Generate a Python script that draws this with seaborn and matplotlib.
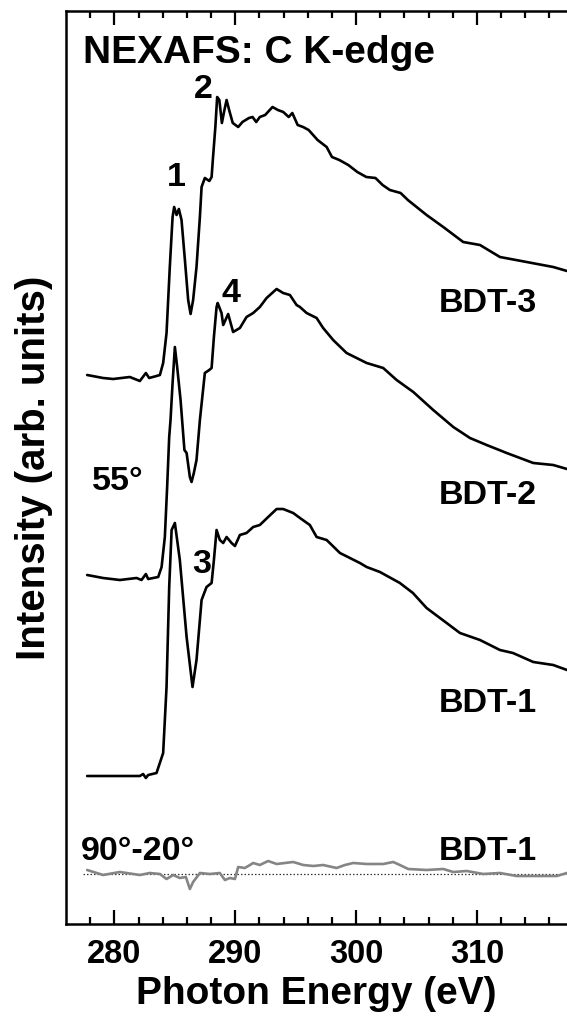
import numpy as np
import pandas as pd
import matplotlib
matplotlib.use("Agg")
import matplotlib.pyplot as plt
import seaborn as sns

# ---- NEXAFS C K-edge spectra (photon energy in eV, intensity in arb. units) ----
# Each spectrum is given relative to its own pre-edge level and stacked with an offset.

bdt1_energy = [277.75, 279.07, 282.11, 282.38, 282.61, 282.80, 283.49, 284.04, 284.32,
               284.54, 284.74, 285.01, 285.42, 285.98, 286.47, 286.80, 287.22, 287.63,
               288.05, 288.24, 288.46, 288.73, 289.01, 289.29, 289.70, 289.98, 290.39,
               290.94, 291.49, 292.04, 292.73, 293.43, 293.97, 294.80, 295.36, 296.18,
               296.74, 297.57, 298.67, 300.32, 300.88, 301.98, 303.63, 304.71, 305.84,
               307.50, 308.60, 310.26, 311.91, 312.99, 314.67, 316.32, 317.46]
bdt1_intensity = [-0.02, -0.02, -0.02, 0.00, -0.04, -0.01, 0.01, 0.21, 0.87,
                  1.87, 2.44, 2.51, 2.14, 1.37, 0.87, 1.14, 1.74, 1.87,
                  1.91, 2.14, 2.44, 2.34, 2.31, 2.37, 2.31, 2.28, 2.39,
                  2.41, 2.47, 2.49, 2.57, 2.65, 2.65, 2.61, 2.56, 2.49,
                  2.37, 2.34, 2.21, 2.11, 2.07, 2.02, 1.91, 1.81, 1.66,
                  1.51, 1.41, 1.34, 1.24, 1.21, 1.12, 1.09, 1.04]

bdt2_energy = [277.75, 279.07, 280.46, 281.84, 282.25, 282.61, 282.80, 283.63, 283.91,
               284.18, 284.37, 284.54, 284.65, 284.82, 285.01, 285.20, 285.48, 285.80,
               285.98, 286.25, 286.39, 286.58, 286.80, 287.08, 287.49, 287.85, 288.05,
               288.24, 288.46, 288.55, 288.87, 289.01, 289.42, 289.83, 290.39, 290.94,
               291.49, 292.04, 292.60, 293.43, 293.97, 294.53, 295.08, 295.36, 295.91,
               296.74, 297.28, 298.11, 299.22, 300.88, 302.25, 303.36, 304.74, 306.39,
               308.05, 309.43, 310.81, 312.47, 314.67, 316.32, 317.46]
bdt2_intensity = [-0.01, -0.04, -0.06, -0.04, -0.06, 0.00, -0.05, -0.03, 0.07,
                  0.37, 0.87, 1.37, 1.54, 1.91, 2.27, 2.07, 1.74, 1.24,
                  1.21, 0.97, 0.92, 1.01, 1.14, 1.54, 2.01, 2.04, 2.06,
                  2.37, 2.67, 2.71, 2.61, 2.49, 2.60, 2.42, 2.46, 2.57,
                  2.61, 2.67, 2.76, 2.85, 2.81, 2.79, 2.69, 2.67, 2.61,
                  2.56, 2.46, 2.34, 2.21, 2.11, 2.06, 1.94, 1.82, 1.64,
                  1.47, 1.36, 1.29, 1.21, 1.11, 1.09, 1.05]

bdt3_energy = [277.75, 279.07, 279.90, 281.28, 282.11, 282.61, 282.88, 283.49, 283.77,
               284.04, 284.32, 284.59, 284.82, 284.95, 285.15, 285.34, 285.56, 285.84,
               286.11, 286.31, 286.52, 286.80, 287.08, 287.22, 287.49, 287.86, 288.05,
               288.15, 288.36, 288.51, 288.69, 288.90, 289.11, 289.29, 289.50, 289.80,
               290.25, 290.60, 291.14, 291.44, 291.74, 292.04, 292.48, 293.09, 293.53,
               293.98, 294.43, 294.73, 295.17, 295.62, 296.08, 296.82, 297.57, 298.01,
               298.62, 299.36, 300.11, 300.85, 301.61, 302.20, 302.80, 303.69, 304.29,
               305.84, 307.22, 308.87, 310.26, 311.91, 314.12, 316.32, 317.46]
bdt3_intensity = [-0.01, -0.04, -0.05, -0.03, -0.07, 0.01, -0.04, -0.02, -0.01,
                  0.11, 0.41, 1.07, 1.57, 1.67, 1.59, 1.65, 1.54, 1.14,
                  0.74, 0.60, 0.74, 1.07, 1.57, 1.87, 1.96, 1.93, 1.97,
                  2.14, 2.47, 2.77, 2.74, 2.51, 2.64, 2.74, 2.64, 2.51,
                  2.47, 2.52, 2.56, 2.57, 2.52, 2.57, 2.59, 2.67, 2.64,
                  2.62, 2.57, 2.61, 2.49, 2.47, 2.44, 2.34, 2.27, 2.17,
                  2.14, 2.09, 2.02, 1.97, 1.96, 1.89, 1.84, 1.81, 1.74,
                  1.59, 1.47, 1.32, 1.29, 1.17, 1.12, 1.07, 1.03]

# Dichroic difference (90 deg - 20 deg) of BDT-1
diff_energy = [277.75, 279.07, 280.46, 282.11, 282.94, 283.77, 284.32, 284.87, 285.42,
               285.92, 286.25, 286.52, 287.08, 287.91, 288.73, 289.15, 289.56, 289.98,
               290.25, 290.80, 291.22, 291.49, 292.04, 292.73, 293.43, 294.11, 294.80,
               295.63, 296.46, 297.28, 298.39, 299.08, 299.77, 300.88, 302.25, 303.08,
               303.63, 304.32, 305.84, 307.22, 308.05, 309.16, 310.53, 311.91, 313.29,
               314.67, 316.61, 317.46]
diff_intensity = [0.04, -0.01, 0.02, -0.01, 0.01, 0.00, -0.05, -0.01, -0.04,
                  -0.03, -0.15, -0.08, 0.01, 0.00, 0.01, -0.06, -0.04, -0.05,
                  0.07, 0.06, 0.09, 0.11, 0.09, 0.13, 0.10, 0.11, 0.12,
                  0.09, 0.08, 0.09, 0.06, 0.09, 0.11, 0.10, 0.10, 0.12,
                  0.09, 0.05, 0.04, 0.05, 0.02, 0.03, 0.00, 0.01, -0.02,
                  -0.02, -0.02, 0.01]

spectrum_names = ["BDT-1", "BDT-2", "BDT-3"]
spectrum_offsets = [1.5, 3.5, 5.5]
diff_offset = 0.5

xticks = [280, 290, 300, 310]

# ---- style ----
sns.set_theme(style="ticks")
plt.rcParams["font.family"] = ["Liberation Sans", "DejaVu Sans"]
plt.rcParams["font.weight"] = "bold"
plt.rcParams["axes.labelweight"] = "bold"
plt.rcParams["text.color"] = "black"
plt.rcParams["axes.labelcolor"] = "black"
plt.rcParams["xtick.color"] = "black"
plt.rcParams["xtick.labelcolor"] = "black"

fig = plt.figure(figsize=(5.67, 10.22), dpi=100)
ax = fig.add_axes([66 / 567, 98 / 1022, 1 - 66 / 567, (1022 - 11 - 98) / 1022])

curves = [(bdt1_energy, bdt1_intensity), (bdt2_energy, bdt2_intensity),
          (bdt3_energy, bdt3_intensity)]
for (energy, intensity), name, off in zip(curves, spectrum_names, spectrum_offsets):
    df = pd.DataFrame({"energy": energy, "intensity": np.asarray(intensity) + off})
    sns.lineplot(data=df, x="energy", y="intensity", ax=ax, color="black",
                 linewidth=1.9, sort=False, estimator=None)

ddf = pd.DataFrame({"energy": diff_energy,
                    "intensity": np.asarray(diff_intensity) + diff_offset})
ax.hlines(diff_offset, 277.4, 317.46, colors="#333333", linestyles=(0, (1.2, 1.6)),
          linewidth=0.9)
sns.lineplot(data=ddf, x="energy", y="intensity", ax=ax, color="#858585",
             linewidth=1.9, sort=False, estimator=None)

ax.set_xlim(276.0, 317.46)
ax.set_ylim(0, 9.13)

# axes frame and ticks
for side in ["left", "top", "bottom"]:
    ax.spines[side].set_linewidth(1.8)
    ax.spines[side].set_color("black")
ax.spines["right"].set_visible(False)
ax.set_xticks(xticks)
ax.set_xticks(np.arange(278, 318, 2), minor=True)
ax.tick_params(axis="x", which="both", direction="in", top=True, bottom=True,
               width=1.6, color="black", labelcolor="black", labelsize=23.5, pad=11)
ax.tick_params(axis="x", which="major", length=10)
ax.tick_params(axis="x", which="minor", length=5)
ax.set_yticks([])
for lab in ax.get_xticklabels():
    lab.set_fontweight("bold")

ax.set_xlabel("Photon Energy (eV)", fontsize=28, fontweight="bold", labelpad=4,
              color="black")
ax.set_ylabel("Intensity (arb. units)", fontsize=29, fontweight="bold", color="black")
ax.yaxis.set_label_coords(-0.025, 0.5)

# annotations
txt = dict(fontsize=24.5, fontweight="bold", color="black")
ax.text(0.034, 0.943, "NEXAFS: C K-edge", transform=ax.transAxes, fontsize=28,
        fontweight="bold", color="black", ha="left", va="baseline")
ax.text(285.1, 7.38, "1", ha="center", va="baseline", **txt)
ax.text(287.4, 8.26, "2", ha="center", va="baseline", **txt)
ax.text(287.22, 3.51, "3", ha="center", va="baseline", **txt)
ax.text(289.64, 6.22, "4", ha="center", va="baseline", **txt)
ax.text(280.25, 4.34, "55°", ha="center", va="baseline", **txt)
ax.text(281.95, 0.64, "90°-20°", ha="center", va="baseline", **txt)
for name, y in zip(["BDT-3", "BDT-2", "BDT-1", "BDT-1"], [6.12, 4.20, 2.12, 0.64]):
    ax.text(310.88, y, name, ha="center", va="baseline", **txt)

fig.savefig("out.png", dpi=100)
